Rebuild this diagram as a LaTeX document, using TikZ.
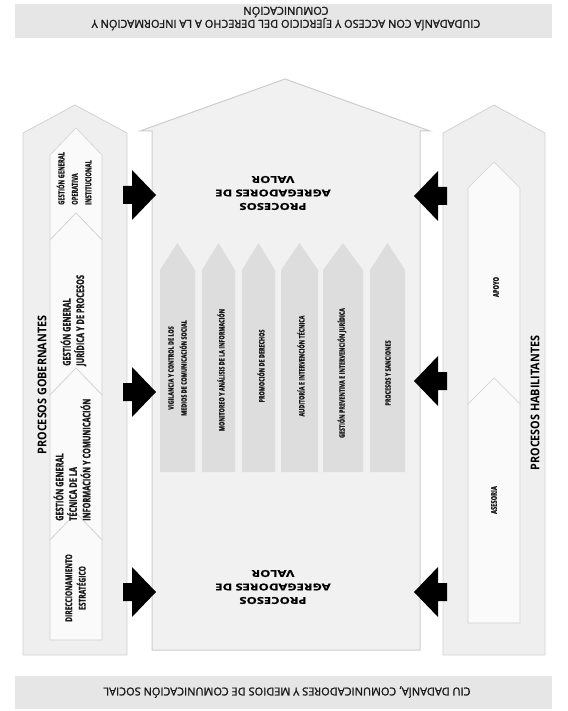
\documentclass[tikz,border=0pt]{standalone}
\usepackage{fontspec}
\setmainfont{Open Sans}
\newfontfamily\condf[FakeStretch=0.7, FakeBold=1.2]{Open Sans}
\newfontfamily\pillf[FakeStretch=0.72, FakeBold=1.2]{Open Sans}
\newfontfamily\titf[FakeStretch=0.9]{Open Sans}
\newfontfamily\widef[FakeStretch=1.35, FakeBold=0.8]{Open Sans}
\newfontfamily\banf[FakeBold=1.6]{Open Sans}
\definecolor{bannerfill}{HTML}{E6E6E6}
\definecolor{colfill}{HTML}{EFEFEF}
\definecolor{colline}{HTML}{D2D2D2}
\definecolor{innerfill}{HTML}{FAFAFA}
\definecolor{housefill}{HTML}{F1F1F1}
\definecolor{houseline}{HTML}{CDCDCD}
\definecolor{pillfill}{HTML}{DDDDDD}
\definecolor{txt}{HTML}{1A1A1A}
\tikzset{
  banner/.style={fill=bannerfill},
  outercol/.style={fill=colfill, draw=colline, line width=0.8pt},
  innerbox/.style={fill=innerfill, draw=colline, line width=0.6pt},
  house/.style={fill=housefill, draw=houseline, line width=1pt},
  pill/.style={fill=pillfill},
  bantext/.style={rotate=180, align=center, text=txt, font=\banf\fontsize{11}{13}\selectfont},
  smalltext/.style={rotate=90, align=left, inner sep=0pt, text=txt, font=\condf\bfseries\fontsize{10.5}{13.5}\selectfont},
  pilltext/.style={rotate=90, align=center, inner sep=0pt, text=txt, font=\pillf\bfseries\fontsize{7.5}{13}\selectfont},
  coltitle/.style={rotate=90, inner sep=0pt, font=\titf\bfseries\fontsize{12}{14}\selectfont},
  valtext/.style={rotate=180, align=center, inner sep=0pt, font=\widef\bfseries\fontsize{9.6}{13.5}\selectfont},
  rarrow/.pic={\fill[black] (0,0) -- (-24,-25) -- (-24,-9) -- (-33,-9) -- (-33,9) -- (-24,9) -- (-24,25) -- cycle;},
  larrow/.pic={\fill[black] (0,0) -- (24,-25) -- (24,-9) -- (33,-9) -- (33,9) -- (24,9) -- (24,25) -- cycle;}
}
\begin{document}
\begin{tikzpicture}[x=1pt,y=-1pt]
\useasboundingbox (0,0) rectangle (567,711);
% banners
\fill[banner] (15,4) rectangle (552,38);
\node[bantext] (topban) at (286,18.5) {CIUDADANÍA CON ACCESO Y EJERCICIO DEL DERECHO A LA INFORMACIÓN Y\\COMUNICACIÓN};
\fill[banner] (15,676) rectangle (552,709);
\node[bantext] (botban) at (287,692) {CIU DADANÍA, COMUNICADORES Y MEDIOS DE COMUNICACIÓN SOCIAL};
% left column
\path[outercol] (23,133) -- (75,105) -- (127,133) -- (127,655) -- (23,655) -- cycle;
\path[innerbox] (50,155) -- (76,128) -- (102,155) -- (102,240) -- (76,213) -- (50,240) -- cycle;
\path[innerbox] (50,240) -- (76,213) -- (102,240) -- (102,395) -- (76,368) -- (50,395) -- cycle;
\path[innerbox] (50,395) -- (76,368) -- (102,395) -- (102,540) -- (76,513) -- (50,540) -- cycle;
\path[innerbox] (50,540) -- (76,513) -- (102,540) -- (102,640) -- (50,640) -- cycle;
\node[coltitle] (gob) at (42,385) {PROCESOS GOBERNANTES};
\node[smalltext, anchor=west, font=\condf\bfseries\fontsize{8.2}{13.5}\selectfont] (oper) at (74,205) {GESTIÓN GENERAL\\OPERATIVA\\INSTITUCIONAL};
\node[smalltext, anchor=west] (jur) at (73.5,366) {GESTIÓN GENERAL\\JURÍDICA Y DE PROCESOS};
\node[smalltext, anchor=west] (tec) at (72,521) {GESTIÓN GENERAL\\TÉCNICA DE LA\\INFORMACIÓN Y  COMUNICACIÓN};
\node[smalltext, align=center, font=\condf\bfseries\fontsize{9.5}{13.5}\selectfont] (dir) at (75.5,588) {DIRECCIONAMIENTO\\ESTRATÉGICO};
% right column
\path[outercol] (443,133) -- (494,105) -- (545,133) -- (545,655) -- (443,655) -- cycle;
\path[innerbox] (468,188) -- (494,162) -- (520,188) -- (520,404) -- (494,378) -- (468,404) -- cycle;
\path[innerbox] (468,404) -- (494,378) -- (520,404) -- (520,623) -- (468,623) -- cycle;
\node[coltitle] (hab) at (535,403) {PROCESOS HABILITANTES};
\node[pilltext, font=\pillf\bfseries\fontsize{8}{12}\selectfont] (apoyo) at (496,287) {APOYO};
\node[pilltext, font=\pillf\bfseries\fontsize{8}{12}\selectfont] (asesoria) at (494,500) {ASESORIA};
% house
\path[house] (140,131) -- (285,79) -- (430,131) -- (420,131) -- (420,650) -- (152,650) -- (152,131) -- cycle;
\node[valtext] (valtop) at (273,193) {PROCESOS\\AGREGADORES DE\\VALOR};
\node[valtext] (valbot) at (273,587) {PROCESOS\\AGREGADORES DE\\VALOR};
% pillars
\foreach \l/\r in {160/195, 202/235, 242/275, 281/318, 323/363, 370/405}{
  \path[pill] (\l,270) -- ({(\l+\r)/2},243) -- (\r,270) -- (\r,472) -- (\l,472) -- cycle;
}
\node[pilltext] (p1) at (177.5,368) {VIGILANCIA Y CONTROL DE LOS\\MEDIOS DE COMUNICACIÓN SOCIAL};
\node[pilltext] (p2) at (221,370) {MONITOREO Y ANÁLISIS DE LA INFORMACIÓN};
\node[pilltext] (p3) at (261,366) {PROMOCIÓN DE DERECHOS};
\node[pilltext] (p4) at (301,366) {AUDITORÍA E INTERVENCIÓN TÉCNICA};
\node[pilltext] (p5) at (342,373) {GESTIÓN PREVENTIVA E INTERVENCIÓN JURÍDICA};
\node[pilltext] (p6) at (388,373) {PROCESOS Y SANCIONES};
% arrows
\pic at (156,195) {rarrow};
\pic at (156,392) {rarrow};
\pic at (156,592) {rarrow};
\pic at (414,196) {larrow};
\pic at (414,381) {larrow};
\pic at (414,592) {larrow};
\end{tikzpicture}
\end{document}
